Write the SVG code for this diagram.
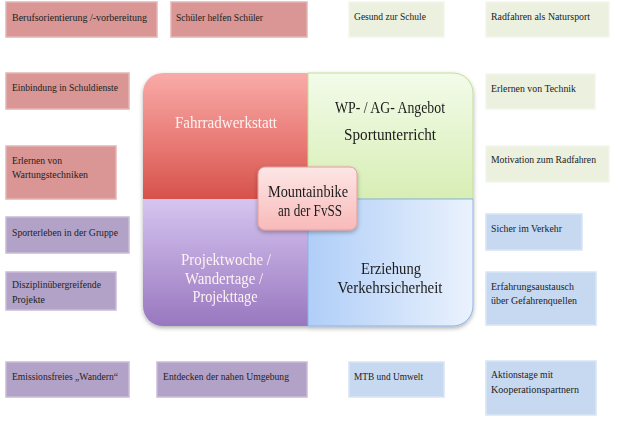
<svg xmlns="http://www.w3.org/2000/svg" width="618" height="422" viewBox="0 0 618 422">
<defs>
<style>
.t{font-family:"Liberation Serif","DejaVu Serif",serif;font-size:11px;fill:#222}
.q{font-family:"Liberation Serif","DejaVu Serif",serif;font-size:16px;text-anchor:middle}
.qw{fill:#fdf2f2}
.qd{fill:#1c1c1c}
.red{fill:#d99694;stroke:#e4b4b3;stroke-width:1.5}
.grn{fill:#ebf1de;stroke:#f2f6ea;stroke-width:1.5}
.pur{fill:#b3a2c7;stroke:#c9bcd8;stroke-width:1.5}
.blu{fill:#c6d9f1;stroke:#d8e5f5;stroke-width:1.5}
</style>
<linearGradient id="gRed" x1="0" y1="0" x2="0" y2="1">
<stop offset="0" stop-color="#f9aba8"/><stop offset="0.6" stop-color="#e77671"/><stop offset="1" stop-color="#d6524b"/>
</linearGradient>
<linearGradient id="gGrn" x1="0" y1="0" x2="0" y2="1">
<stop offset="0" stop-color="#f3fbea"/><stop offset="1" stop-color="#d7eeb4"/>
</linearGradient>
<linearGradient id="gPur" x1="0" y1="0" x2="0" y2="1">
<stop offset="0" stop-color="#d6c5f0"/><stop offset="1" stop-color="#9877bf"/>
</linearGradient>
<linearGradient id="gBlu" x1="0" y1="0" x2="1" y2="0">
<stop offset="0" stop-color="#b0cef8"/><stop offset="1" stop-color="#eaf2fd"/>
</linearGradient>
<linearGradient id="gCen" x1="0" y1="0" x2="0" y2="1">
<stop offset="0" stop-color="#fde6e6"/><stop offset="1" stop-color="#f8bab9"/>
</linearGradient>
<filter id="sh" x="-10%" y="-10%" width="120%" height="130%">
<feDropShadow dx="0" dy="2" stdDeviation="2" flood-color="#000" flood-opacity="0.3"/>
</filter>
<clipPath id="clipDis"><rect x="6" y="272" width="110" height="33"/></clipPath>
</defs>

<g id="connectors"/>

<g id="block" filter="url(#sh)">
<g id="q-fahrradwerkstatt">
<path d="M143,199 V93 A20,20 0 0 1 163,73 H308 V199 Z" fill="url(#gRed)"/>
<text class="q qw" x="226" y="128" textLength="102" lengthAdjust="spacingAndGlyphs">Fahrradwerkstatt</text>
</g>
<g id="q-wp">
<path d="M308,73 H453 A20,20 0 0 1 473,93 V199 H308 Z" fill="url(#gGrn)" stroke="#c3dd9a" stroke-width="1"/>
<text class="q qd" x="390" y="113" textLength="110" lengthAdjust="spacingAndGlyphs">WP- / AG- Angebot</text>
<text class="q qd" x="390" y="140" textLength="92" lengthAdjust="spacingAndGlyphs">Sportunterricht</text>
</g>
<g id="q-projektwoche">
<path d="M143,199 H308 V326 H163 A20,20 0 0 1 143,306 Z" fill="url(#gPur)"/>
<text class="q qw" x="226" y="265" textLength="90" lengthAdjust="spacingAndGlyphs">Projektwoche /</text>
<text class="q qw" x="224" y="283.5" textLength="78" lengthAdjust="spacingAndGlyphs">Wandertage /</text>
<text class="q qw" x="225" y="302" textLength="65" lengthAdjust="spacingAndGlyphs">Projekttage</text>
</g>
<g id="q-erziehung">
<path d="M308,199 H473 V306 A20,20 0 0 1 453,326 H308 Z" fill="url(#gBlu)" stroke="#8db3e2" stroke-width="1"/>
<text class="q qd" x="391" y="274" textLength="60" lengthAdjust="spacingAndGlyphs">Erziehung</text>
<text class="q qd" x="390" y="293" textLength="105" lengthAdjust="spacingAndGlyphs">Verkehrsicherheit</text>
</g>
</g>

<g id="center" filter="url(#sh)">
<rect x="258" y="167" width="99" height="63" rx="7" fill="url(#gCen)" stroke="#e49c9a" stroke-width="1"/>
<text class="q qd" x="308" y="197" textLength="80" lengthAdjust="spacingAndGlyphs">Mountainbike</text>
<text class="q qd" x="310" y="215.5" textLength="64" lengthAdjust="spacingAndGlyphs">an der FvSS</text>
</g>

<g id="n-berufsorientierung">
<rect class="red" x="6" y="2" width="151" height="35"/>
<text class="t" x="12" y="21" textLength="135" lengthAdjust="spacingAndGlyphs">Berufsorientierung /-vorbereitung</text>
</g>
<g id="n-schueler">
<rect class="red" x="171" y="2" width="136" height="35"/>
<text class="t" x="176" y="21" textLength="87" lengthAdjust="spacingAndGlyphs">Schüler helfen Schüler</text>
</g>
<g id="n-einbindung">
<rect class="red" x="6" y="73" width="123" height="36"/>
<text class="t" x="12" y="91" textLength="106" lengthAdjust="spacingAndGlyphs">Einbindung in Schuldienste</text>
</g>
<g id="n-wartung">
<rect class="red" x="6" y="146" width="110" height="53"/>
<text class="t" x="12" y="164" textLength="50" lengthAdjust="spacingAndGlyphs">Erlernen von</text>
<text class="t" x="12" y="178" textLength="76" lengthAdjust="spacingAndGlyphs">Wartungstechniken</text>
</g>

<g id="n-gesund">
<rect class="grn" x="349" y="2" width="95" height="35"/>
<text class="t" x="354" y="20" textLength="72" lengthAdjust="spacingAndGlyphs">Gesund zur Schule</text>
</g>
<g id="n-natursport">
<rect class="grn" x="486" y="2" width="123" height="35"/>
<text class="t" x="491" y="20" textLength="99" lengthAdjust="spacingAndGlyphs">Radfahren als Natursport</text>
</g>
<g id="n-technik">
<rect class="grn" x="486" y="74" width="109" height="35"/>
<text class="t" x="491" y="92" textLength="85" lengthAdjust="spacingAndGlyphs">Erlernen von Technik</text>
</g>
<g id="n-motivation">
<rect class="grn" x="486" y="146" width="123" height="36"/>
<text class="t" x="491" y="163" textLength="105" lengthAdjust="spacingAndGlyphs">Motivation zum Radfahren</text>
</g>

<g id="n-sporterleben">
<rect class="pur" x="6" y="217" width="123" height="36"/>
<text class="t" x="12" y="236" textLength="106" lengthAdjust="spacingAndGlyphs">Sporterleben in der Gruppe</text>
</g>
<g id="n-disziplin">
<rect class="pur" x="6" y="272" width="110" height="38"/>
<g clip-path="url(#clipDis)">
<text class="t" x="12" y="288" textLength="89" lengthAdjust="spacingAndGlyphs">Disziplinübergreifende</text>
<text class="t" x="12" y="303" textLength="33" lengthAdjust="spacingAndGlyphs">Projekte</text>
</g>
</g>
<g id="n-emission">
<rect class="pur" x="6" y="362" width="123" height="35"/>
<text class="t" x="12" y="380" textLength="106" lengthAdjust="spacingAndGlyphs">Emissionsfreies „Wandern“</text>
</g>
<g id="n-entdecken">
<rect class="pur" x="157" y="362" width="150" height="35"/>
<text class="t" x="163" y="380" textLength="126" lengthAdjust="spacingAndGlyphs">Entdecken der nahen Umgebung</text>
</g>

<g id="n-sicher">
<rect class="blu" x="486" y="214" width="96" height="36"/>
<text class="t" x="491" y="232" textLength="71" lengthAdjust="spacingAndGlyphs">Sicher im Verkehr</text>
</g>
<g id="n-erfahrung">
<rect class="blu" x="486" y="272" width="110" height="53"/>
<text class="t" x="491" y="290" textLength="83" lengthAdjust="spacingAndGlyphs">Erfahrungsaustausch</text>
<text class="t" x="491" y="304" textLength="86" lengthAdjust="spacingAndGlyphs">über Gefahrenquellen</text>
</g>
<g id="n-mtb">
<rect class="blu" x="349" y="362" width="95" height="35"/>
<text class="t" x="354" y="380" textLength="69" lengthAdjust="spacingAndGlyphs">MTB und Umwelt</text>
</g>
<g id="n-aktionstage">
<rect class="blu" x="486" y="361" width="110" height="54"/>
<text class="t" x="491" y="378" textLength="62" lengthAdjust="spacingAndGlyphs">Aktionstage mit</text>
<text class="t" x="491" y="393" textLength="88" lengthAdjust="spacingAndGlyphs">Kooperationspartnern</text>
</g>
</svg>
